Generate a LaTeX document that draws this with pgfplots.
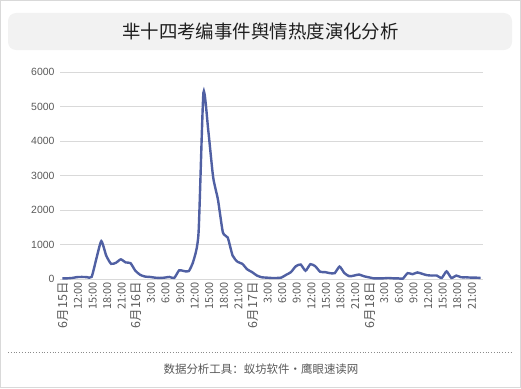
\documentclass[border=0pt]{standalone}
\usepackage{fontspec}
\usepackage{pgfplots}
\pgfplotsset{compat=1.18}
\usepackage{pgfplotstable}
\setmainfont{Liberation Sans}
\newfontfamily\cjk{Noto Sans CJK SC}
\definecolor{txtgray}{HTML}{595959}
\definecolor{gridgray}{HTML}{D9D9D9}
\definecolor{linecol}{RGB}{80,96,163}
\definecolor{titlebg}{HTML}{F2F2F2}
\newcommand{\dlab}[1]{{\fontsize{12.5}{13}\selectfont #1}}
\pgfplotstableread{
i v
0 20
1 20
2 30
3 55
4 60
5 55
6 60
7 600
8 1100
9 680
10 440
11 470
12 570
13 480
14 460
15 240
16 120
17 70
18 60
19 40
20 30
21 40
22 60
23 30
24 250
25 230
26 230
27 550
28 1350
29 5400
30 4300
31 2950
32 2290
33 1350
34 1200
35 680
36 500
37 440
38 280
39 200
40 100
41 50
42 40
43 30
44 30
45 40
46 120
47 200
48 370
49 420
50 240
51 430
52 370
53 210
54 200
55 170
56 170
57 360
58 170
59 80
60 100
61 130
62 80
63 50
64 20
65 20
66 20
67 30
68 20
69 20
70 10
71 170
72 140
73 190
74 150
75 110
76 100
77 100
78 30
79 220
80 30
81 100
82 50
83 50
84 40
85 40
86 30
}\datatable
\begin{document}
\begin{tikzpicture}[x=1bp,y=1bp]
\useasboundingbox (0,0) rectangle (521,388);
\draw[gridgray, line width=1bp] (0.5,0.5) rectangle (520.5,387.5);
\fill[titlebg, rounded corners=8bp] (8,338) rectangle (512,375);
\node[font=\cjk\fontsize{18.5}{20}\selectfont, text=black!88] at (260.5,356.5) {芈十四考编事件舆情热度演化分析};
\draw[txtgray!70, line width=0.8bp, dotted] (8,36) -- (512,36);
\node[font=\cjk\fontsize{11.5}{13}\selectfont, text=txtgray] at (261,19) {数据分析工具：蚁坊软件・鹰眼速读网};
\begin{axis}[
  at={(60bp,109bp)}, anchor=south west,
  scale only axis, width=423bp, height=207bp,
  xmin=-0.5, xmax=86.5, ymin=0, ymax=6000,
  ytick={0,1000,...,6000},
  xtick={0,3,...,84},
  xticklabels={\dlab{6月15日},12:00,15:00,18:00,21:00,\dlab{6月16日},3:00,6:00,9:00,12:00,15:00,18:00,21:00,\dlab{6月17日},3:00,6:00,9:00,12:00,15:00,18:00,21:00,\dlab{6月18日},3:00,6:00,9:00,12:00,15:00,18:00,21:00},
  axis line style={draw=none},
  major tick length=0pt,
  ymajorgrids, grid style={gridgray, line width=0.9bp},
  yticklabel style={font=\fontsize{10.5}{12}\selectfont, text=txtgray, xshift=-2bp},
  xticklabel style={font=\cjk\fontsize{11}{12}\selectfont, text=txtgray, rotate=90, anchor=east, yshift=-1bp},
  /pgf/number format/assume math mode=true,
  scaled y ticks=false,
  yticklabel={\pgfmathprintnumber[fixed,precision=0,1000 sep={}]{\tick}},
]
\addplot[linecol, line width=2.4bp, smooth, tension=0.35, no marks] table[x=i, y=v] {\datatable};
\end{axis}
\end{tikzpicture}
\end{document}
